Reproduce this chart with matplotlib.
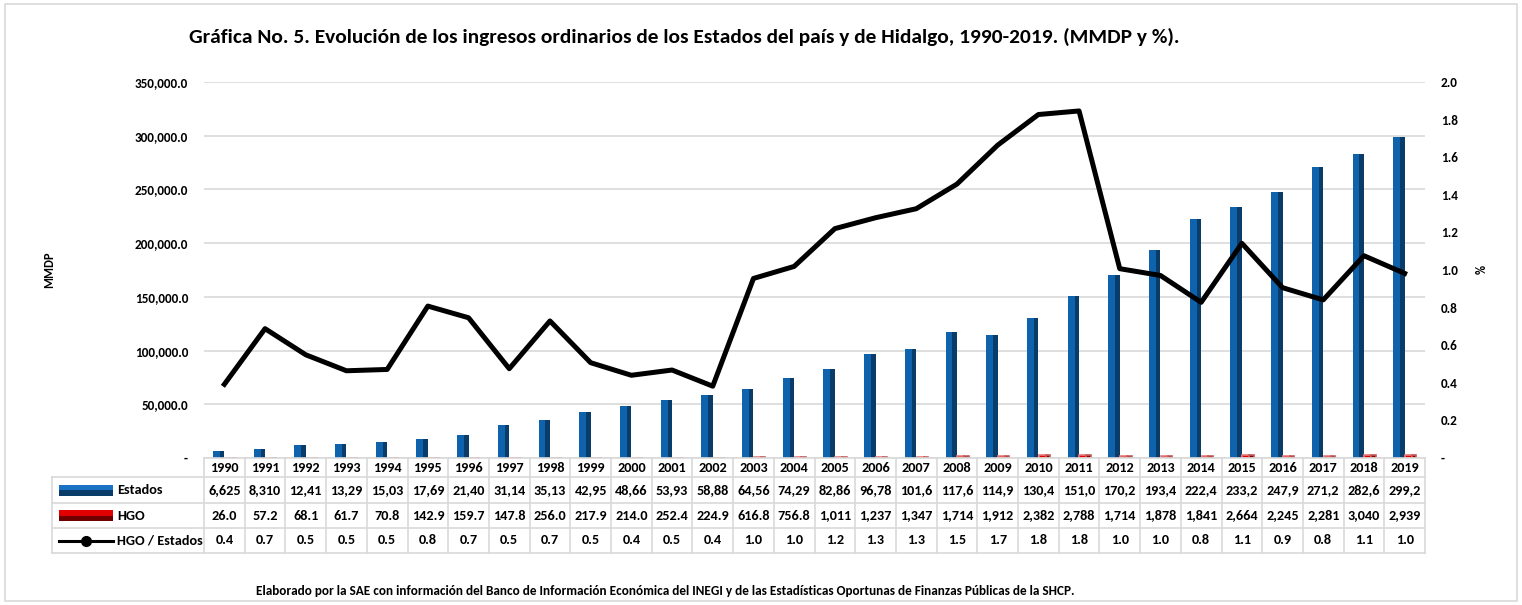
import matplotlib
matplotlib.use("Agg")
import matplotlib.pyplot as plt
import matplotlib.transforms as mtransforms
from matplotlib import font_manager
from matplotlib.font_manager import FontProperties
from matplotlib.patches import Rectangle
import numpy as np

years = list(range(1990, 2020))
# ingresos ordinarios, MMDP
estados = [6625, 8310, 12410, 13290, 15030, 17690, 21400, 31140, 35130, 42950,
           48660, 53930, 58880, 64560, 74290, 82860, 96780, 101600, 117600, 114900,
           130400, 151000, 170200, 193400, 222400, 233200, 247900, 271200, 282600, 299200]
hgo = [26.0, 57.2, 68.1, 61.7, 70.8, 142.9, 159.7, 147.8, 256.0, 217.9,
       214.0, 252.4, 224.9, 616.8, 756.8, 1011.0, 1237.0, 1347.0, 1714.0, 1912.0,
       2382.0, 2788.0, 1714.0, 1878.0, 1841.0, 2664.0, 2245.0, 2281.0, 3040.0, 2939.0]
# HGO / Estados, %
ratio = [0.392, 0.688, 0.549, 0.464, 0.471, 0.808, 0.746, 0.475, 0.729, 0.507,
         0.440, 0.468, 0.382, 0.955, 1.019, 1.220, 1.278, 1.326, 1.457, 1.664,
         1.827, 1.846, 1.007, 0.971, 0.828, 1.142, 0.906, 0.841, 1.076, 0.982]

row_names = ["Estados", "HGO", "HGO / Estados"]
title = ("Gráfica No. 5. Evolución de los ingresos ordinarios de los Estados del país "
         "y de Hidalgo, 1990-2019. (MMDP y %).")
note = ("Elaborado por la SAE con información del Banco de Información Económica del INEGI "
        "y de las Estadísticas Oportunas de Finanzas Públicas de la SHCP.")


def pick_font(names):
    for n in names:
        try:
            font_manager.findfont(FontProperties(family=n), fallback_to_default=False)
            return n
        except ValueError:
            pass
    return "DejaVu Sans"


font = pick_font(["Carlito", "Liberation Sans Narrow", "DejaVu Sans Condensed",
                  "Open Sans", "Liberation Sans"])
plt.rcParams["font.family"] = [font, "DejaVu Sans"]
plt.rcParams["font.weight"] = "bold"

blue_l, blue_d = "#0f63ad", "#0a3c6a"
red_l, red_d = "#e00000", "#8a0000"
grid_c = "#d9d9d9"

W, H = 1522, 605
fig = plt.figure(figsize=(W / 100, H / 100), dpi=100)
ax = fig.add_axes([204 / W, 1 - 458 / H, 1221 / W, 376 / H])

x = np.arange(len(years))
ax.bar(x - 0.28, estados, width=0.17, align="edge", color=blue_l, zorder=2)
ax.bar(x - 0.11, estados, width=0.11, align="edge", color=blue_d, zorder=2)
ax.bar(x + 0.01, hgo, width=0.17, align="edge", color=red_l,
       edgecolor="#e87a7a", lw=1.2, zorder=2)
ax.bar(x + 0.18, hgo, width=0.11, align="edge", color=red_d,
       edgecolor="#c45a5a", lw=1.2, zorder=2)

ax.set_xlim(-0.5, len(years) - 0.5)
ax.set_ylim(0, 350000)
yt = np.arange(0, 350001, 50000)
ax.set_yticks(yt)
ax.set_yticklabels(["-" if v == 0 else f"{v:,.1f}" for v in yt])
ax.set_xticks([])
ax.yaxis.grid(True, color=grid_c, lw=1.2)
ax.set_axisbelow(True)
ax.tick_params(axis="y", length=0, pad=11.5, labelsize=9.5)
for s in ax.spines.values():
    s.set_visible(False)

ax2 = ax.twinx()
ax2.plot(x, ratio, color="black", lw=3.6, zorder=3)
ax2.set_ylim(0, 2.0)
rt = np.arange(0, 2.01, 0.2)
ax2.set_yticks(rt)
ax2.set_yticklabels(["-" if v == 0 else f"{v:.1f}" for v in rt])
ax2.tick_params(axis="y", length=0, pad=11.5, labelsize=9.5)
for s in ax2.spines.values():
    s.set_visible(False)

fig.text(49 / W, 1 - 270 / H, "MMDP", rotation=90, ha="center", va="center", fontsize=9)
fig.text(1478 / W, 1 - 270 / H, "%", rotation=270, ha="center", va="center", fontsize=9)

# overlay in pixel coords for the data table
ov = fig.add_axes([0, 0, 1, 1], facecolor="none")
ov.set_autoscale_on(False)
ov.set_xlim(0, W)
ov.set_ylim(H, 0)
ov.axis("off")
trans = mtransforms.blended_transform_factory(ax.transData, ov.transData)

rows = [458, 477, 503, 528, 553]
tab_left = 52
ov.plot([204, 1425], [rows[0], rows[0]], color=grid_c, lw=1.2)
for ry in rows[1:]:
    ov.plot([tab_left, 1425], [ry, ry], color=grid_c, lw=1.2)
ov.plot([tab_left, tab_left], [rows[1], rows[-1]], color=grid_c, lw=1.2)
for b in np.arange(-0.5, len(years)):
    ov.plot([b, b], [rows[0], rows[-1]], color=grid_c, lw=1.2, transform=trans)

mid = [(rows[k] + rows[k + 1]) / 2 for k in range(4)]
est_txt = [f"{v:,.0f}"[:5] for v in estados]
hgo_txt = [f"{v:,.1f}"[:5] for v in hgo]
rat_txt = [f"{v:.1f}" for v in ratio]
for i in range(len(years)):
    for k, t in enumerate([str(years[i]), est_txt[i], hgo_txt[i], rat_txt[i]]):
        ov.text(i, mid[k], t, transform=trans, ha="center", va="center", fontsize=10.3)

# legend keys in the table
ov.add_patch(Rectangle((59, mid[1] - 5.5), 54, 5.5, color="#1a72c4", lw=0))
ov.add_patch(Rectangle((59, mid[1]), 54, 5.5, color=blue_d, lw=0))
ov.add_patch(Rectangle((59, mid[2] - 5.5), 54, 5.5, color=red_l, lw=0))
ov.add_patch(Rectangle((59, mid[2]), 54, 5.5, color="#6e0000", lw=0))
ov.plot([59, 113], [mid[3], mid[3]], color="black", lw=2.2)
ov.plot([86], [mid[3]], "o", color="black", ms=7)
for k, name in enumerate(row_names):
    ov.text(117, mid[k + 1], name, ha="left", va="center", fontsize=10.3)

ov.add_patch(Rectangle((5, 4), 1512, 597, fill=False, edgecolor=grid_c, lw=1.2))

# title and source note, sized to the widths they take in the original
t_title = ov.text(684, 37, title, ha="center", va="center", fontsize=12)
t_note = ov.text(665, 591, note, ha="center", va="center", fontsize=8)
fig.canvas.draw()
rend = fig.canvas.get_renderer()
for t, target in [(t_title, 988), (t_note, 827)]:
    w = t.get_window_extent(rend).width
    t.set_fontsize(t.get_fontsize() * target / w)

fig.savefig("out.png", dpi=100)
